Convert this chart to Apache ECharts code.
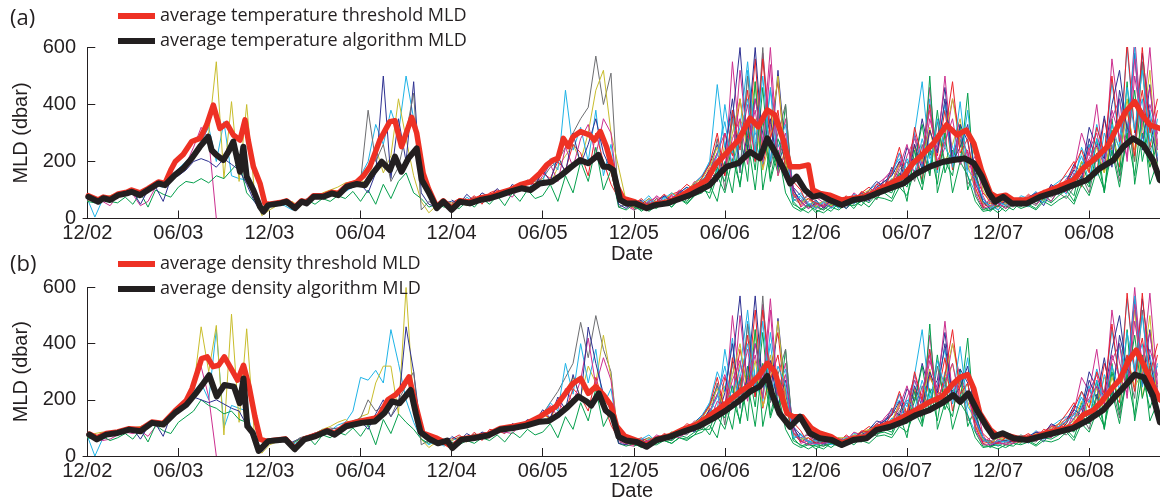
<!DOCTYPE html>
<html><head><meta charset="utf-8">
<script src="https://cdn.jsdelivr.net/npm/echarts@6/dist/echarts.min.js"></script>
<style>html,body{margin:0;padding:0;background:#fff}#c{width:1160px;height:502px}</style>
</head><body><div id="c"></div>
<script>
// ---- axis ticks (months since Dec 2002) ----
const tickMonths = [0,6,12,18,24,30,36,42,48,54,60,66];
const tickLabels = ['12/02','06/03','12/03','06/04','12/04','06/05','12/05','06/06','12/06','06/07','12/07','06/08'];
const thinStep = 0.5; // months between profiles of the individual floats

// ---- panel (a): averages [month, MLD dbar] ----
const aThreshold = [[0.07,80],[0.72,65],[1.05,75],[1.5,70],[2.04,86],[2.6,92],[2.92,100],[3.47,90],[4.0,105],[4.68,128],[5.12,123],[5.5,170],[5.8,200],[6.32,225],[6.88,270],[7.42,281],[7.86,328],[8.3,398],[8.74,316],[9.18,334],[9.62,293],[10.06,275],[10.39,346],[10.6,275],[10.94,182],[11.38,123],[11.7,53],[12.0,50],[12.7,56],[13.13,62],[13.68,40],[14.12,62],[14.45,57],[14.9,80],[15.55,80],[16.1,92],[16.53,88],[17.09,116],[17.75,128],[18.2,150],[18.62,182],[19.27,275],[19.93,340],[20.27,343],[20.7,252],[21.37,355],[21.7,300],[22.13,158],[22.47,106],[23.02,41],[23.45,62],[24.0,35],[24.55,62],[25.2,58],[25.87,72],[26.5,78],[27.19,90],[27.85,100],[28.6,120],[29.2,129],[29.8,158],[30.26,188],[30.7,205],[31.0,211],[31.36,281],[31.7,252],[32.0,287],[32.5,305],[33.1,293],[33.4,275],[33.8,305],[34.2,252],[34.5,194],[34.9,112],[35.3,71],[36.08,58],[36.85,40],[37.4,50],[38.2,57],[38.8,70],[39.9,106],[40.8,135],[41.45,194],[42.1,229],[42.9,275],[43.66,352],[44.2,322],[44.8,381],[45.3,363],[45.85,275],[46.3,182],[46.95,182],[47.5,188],[47.8,100],[48.27,88],[48.9,82],[49.7,65],[50.46,71],[51.23,76],[52.0,94],[52.9,123],[53.76,147],[54.4,194],[55.1,229],[55.75,264],[56.6,328],[57.3,293],[57.9,310],[58.4,264],[58.9,170],[59.5,88],[59.9,76],[60.5,82],[61.0,65],[62.0,65],[62.9,88],[64.0,112],[64.96,135],[65.6,176],[66.4,211],[67.2,252],[67.7,305],[68.4,375],[69.0,410],[69.5,363],[70.0,328],[70.66,316],[71.5,300]];
const aAlgorithm = [[0.07,76],[0.72,59],[1.05,71],[1.5,65],[2.04,82],[2.6,88],[2.92,94],[3.47,82],[4.0,100],[4.68,123],[5.12,117],[5.78,153],[6.32,176],[6.88,211],[7.42,252],[7.97,287],[8.19,240],[8.5,223],[8.96,205],[9.29,234],[9.62,270],[10.06,164],[10.28,252],[10.5,147],[10.94,100],[11.38,41],[11.6,24],[11.92,47],[12.7,53],[13.13,59],[13.68,36],[14.12,59],[14.45,53],[14.9,76],[15.55,76],[16.1,88],[16.53,82],[17.09,112],[17.75,121],[18.3,117],[18.8,158],[19.4,199],[19.94,170],[20.27,217],[20.7,164],[21.15,211],[21.7,246],[22.03,135],[22.47,94],[23.02,36],[23.45,59],[24.0,30],[24.55,59],[25.2,53],[25.87,65],[26.5,71],[27.19,82],[27.85,94],[28.6,106],[29.2,100],[29.8,123],[30.6,129],[31.25,153],[31.9,182],[32.46,205],[33.0,194],[33.66,223],[34.0,182],[34.3,182],[34.65,170],[35.1,65],[35.5,53],[36.08,53],[36.85,36],[37.4,47],[38.2,53],[38.8,65],[39.7,82],[40.36,100],[41.0,117],[41.67,158],[42.12,182],[42.9,194],[43.66,234],[44.3,211],[44.8,281],[45.3,234],[45.85,176],[46.3,123],[46.73,147],[47.28,100],[47.8,76],[48.27,82],[48.9,65],[49.7,47],[50.46,65],[51.23,71],[52.0,88],[52.9,106],[53.76,123],[54.64,158],[55.5,182],[56.4,199],[57.07,205],[57.8,211],[58.4,194],[58.93,147],[59.4,88],[59.8,59],[60.34,76],[60.9,53],[61.9,53],[62.76,76],[63.86,94],[64.96,117],[65.84,135],[66.7,176],[67.6,205],[68.25,252],[68.9,281],[69.57,258],[70.2,205],[70.66,135],[71.5,110]];

// ---- panel (b): averages ----
const bThreshold = [[0.13,78],[0.63,65],[1.25,80],[2.0,86],[2.76,97],[3.5,94],[4.26,121],[5.0,116],[5.77,160],[6.52,198],[6.9,240],[7.53,347],[7.9,353],[8.28,318],[8.65,323],[9.03,353],[9.53,306],[9.9,270],[10.29,323],[10.66,247],[11.04,141],[11.4,59],[11.8,53],[13.05,61],[13.67,27],[14.3,61],[15.05,74],[15.8,91],[16.3,80],[17.06,112],[18.06,125],[18.94,135],[19.2,141],[19.8,200],[20.3,218],[20.7,241],[21.2,282],[21.6,188],[22.1,82],[22.95,65],[23.5,50],[24.05,32],[24.65,61],[25.5,67],[26.4,77],[27.2,98],[28.1,106],[28.9,115],[29.85,141],[30.36,159],[30.86,176],[31.5,223],[32.0,259],[32.5,276],[33.0,223],[33.5,247],[34.0,218],[34.5,180],[34.87,106],[35.4,71],[36.2,55],[36.85,37],[37.5,60],[38.4,72],[39.27,95],[40.25,115],[41.24,153],[42.1,188],[43.0,229],[43.66,253],[44.3,290],[44.8,330],[45.3,300],[45.7,220],[46.1,152],[46.5,140],[47.1,140],[47.7,99],[48.26,81],[49.0,69],[49.7,45],[50.46,63],[51.3,69],[52.0,99],[52.9,116],[53.76,140],[54.6,164],[55.5,193],[56.3,211],[57.0,255],[57.5,280],[58.0,290],[58.4,240],[58.8,152],[59.5,93],[59.9,75],[60.5,75],[61.3,63],[62.2,63],[63.1,81],[64.0,93],[64.95,105],[65.6,146],[66.3,164],[66.9,199],[67.6,247],[68.0,270],[68.6,340],[69.1,377],[69.6,324],[70.2,250],[70.66,200],[71.5,180]];
const bAlgorithm = [[0.13,76],[0.63,59],[1.25,76],[2.0,82],[2.76,94],[3.5,88],[4.26,118],[5.0,112],[5.77,153],[6.52,182],[7.15,223],[7.65,259],[8.03,288],[8.53,212],[9.03,253],[9.66,247],[10.04,188],[10.29,276],[10.54,106],[10.9,82],[11.29,18],[11.92,53],[13.05,59],[13.67,24],[14.3,59],[15.05,71],[15.8,88],[16.3,76],[17.06,106],[18.06,118],[18.94,123],[19.57,153],[20.07,194],[20.57,188],[21.3,235],[21.65,150],[21.95,85],[22.5,62],[23.1,45],[23.7,55],[24.05,28],[24.65,58],[25.5,64],[26.4,73],[27.2,94],[28.1,100],[28.9,108],[29.8,122],[30.4,125],[31.0,145],[31.65,175],[32.35,212],[32.9,194],[33.2,180],[33.7,223],[34.15,162],[34.6,142],[35.0,68],[35.5,55],[36.2,50],[36.85,33],[37.5,57],[38.4,69],[39.27,87],[40.25,105],[41.24,134],[42.12,164],[43.0,199],[43.66,229],[44.3,248],[44.8,285],[45.1,223],[45.6,152],[46.3,104],[46.95,140],[47.6,81],[48.26,63],[49.04,57],[49.7,39],[50.46,57],[51.34,63],[52.0,93],[52.9,104],[53.76,122],[54.6,146],[55.5,164],[56.3,188],[57.05,217],[57.5,193],[58.04,223],[58.6,164],[59.25,104],[59.7,69],[60.3,81],[61.0,63],[61.9,57],[62.76,69],[63.64,81],[64.95,99],[65.94,128],[66.93,164],[67.8,217],[68.5,258],[69.0,290],[69.6,280],[70.2,215],[70.66,120],[71.5,100]];

// ---- panel (a): individual floats (values every thinStep months from start) ----
const aF1 = [70,5,65,70,80,85,95,85,100,115,110,140,175,200,230,270,320,200,340,150,140,135,80,20,40,50,45,30,50,60,70,75,85,80,95,110,150,200,330,260,380,300,500,350,200,80,40,55,30];
const aF2 = [60,75,70,80,90,85,100,95,105,120,115,145,170,190,220,260,300,550,140,410,130,400,100,10,30,45,50,60,40,70,75,90,100,110,125,130,135,120,250,160,220,420,280,150,60,20,45,60,55];
const aF3 = [65,70,60,45,80,90,85,45,60,110,120,140,160,190,250,320,280,0];
const aF4 = [60,55,65,60,55,75,50,90,40,100,85,75,110,130,125,140,125,150,140,170,200,90,60,40,45,55,50,40,55,65,50,70,60,80,70,95,60,100,50,120,70,130,160,90,70,40,50,40,45];
const aF5 = [70,65,75,70,85,80,95,50,100,110,60,140,150,170,200,210,200,180,210,190,170,120,60,20,40,55,50,45,60,65,80,75,90,95,100,110,120,90,160,500,140,350,200,480,90,50,40,55,60];
const aF6 = [45,50,55,45,60,70,75,80,95,90,100,120,130,380,200,260,130,180,300,440,30,60,40,55,50,65,60,75,70,80,90,95,100,110,120,130,140,180,200,250,300,350,390,570,400,510,40,50,40,45,55,50,60,70,80,90,100];
const aL1 = [50,60,45,70,65,80,75,95,90,110,100,125, 140,120,180,220,260,200,300,450,520,300,180, 60,40, 50,45,60,55,70,80,75,100,120, 150,130,260,180,350,280,480,200,380,150,250,90, 60,70,50, 60,45,55,70,65,80,90,100,110, 140,120,180,150,230,160,300,200,260,350,180,250,100, 50,60, 55,70,50,65,80,75,90,110,100, 140,130,180,220,160,300,250,420,200,550,180,280];
const aL2 = [60,45,75,55,80,70,90,85,100,120,95,140, 130,210,170,450,240,320,200,380,150,260,90, 40,55, 35,60,50,75,65,90,110,100,140, 200,470,250,380,160,520,300,240,450,180,220,70, 90,50,40, 55,70,40,60,85,70,100,120,95, 170,210,140,290,180,420,160,330,250,200,380,140,60, 45,70, 60,50,80,70,95,60,110,130,150, 120,250,180,330,210,480,260,600,300,420,200,350];
const aL3 = [55,70,60,80,50,90,100,85,110,95,130,120, 160,140,200,170,260,230,150,300,200,120,70, 50,35, 60,40,70,50,85,95,80,120,110, 180,140,300,220,420,250,560,180,330,480,200,130, 100,40,60, 40,65,55,80,50,90,110,85,130, 120,200,160,260,130,310,220,380,170,290,230,150,90, 60,40, 70,55,60,85,65,100,90,120,160, 200,110,260,160,350,240,180,620,300,450,250,380];
const aL4 = [40,65,50,70,80,60,95,90,75,115,130,110, 150,190,130,250,180,280,330,220,350,300,60, 45,30, 40,55,45,65,80,70,95,85,130, 170,230,150,550,260,400,200,580,310,220,350,100, 60,80,35, 50,40,60,75,55,90,80,120,140, 160,230,120,300,200,460,180,250,420,300,170,220,80, 30,65, 45,70,60,55,90,80,115,100,140, 170,300,220,400,170,560,350,250,640,280,400,300];
const aL5 = [45,35,60,40,70,50,80,45,90,60,100,70, 80,120,60,150,90,200,130,250,100,170,40, 30,50, 25,45,35,60,40,70,55,80,90, 120,60,200,90,300,130,480,100,250,160,400,60, 30,50,20, 40,25,55,35,60,45,80,70,100, 90,160,60,240,120,500,90,200,150,330,100,180,40, 25,55, 35,60,40,75,50,85,60,100,110, 80,200,120,280,90,350,150,480,120,300,180,260];
const aL6 = [65,50,85,60,90,75,105,80,120,100,135,115, 170,130,220,160,300,190,260,350,230,170,50, 35,60, 50,70,45,80,60,95,75,125,150, 190,260,170,350,600,240,420,300,190,520,230,110, 80,45,65, 35,60,50,45,75,60,100,130,110, 180,140,250,190,350,220,280,460,200,330,270,120,70, 40,55, 50,65,45,75,90,70,120,95,130, 190,160,320,250,210,400,520,300,580,240,470,200];
const aM1 = [45, 60,40,70,55,50,85,70,110,90, 140,280,100,350,160,500,220,600,180,300,400,70, 50,90,40, 30,55,70,45,60,80,95,65,120, 100,170,200,130,260,150,340,190,230,280,120,160,50, 60,30, 55,40,70,60,45,85,75,90,70, 110,150,90,220,170,260,130,330,200,550,240,300];
const aM2 = [55, 40,65,50,75,60,95,80,120,150, 200,160,400,230,320,550,270,190,460,250,330,90, 70,45,60, 45,60,35,70,55,75,90,110,130, 150,230,170,300,480,210,260,400,180,310,150,90,60, 45,30, 65,50,75,40,80,65,95,110,85, 140,180,260,150,300,220,420,280,600,250,380,220];
const aM3 = [35, 55,45,80,60,70,100,90,130,110, 160,230,300,180,520,260,380,200,540,150,240,110, 40,60,75, 55,40,65,50,90,70,100,85,140, 170,130,220,280,190,350,240,500,210,300,220,130,45, 70,50, 40,60,55,75,50,70,100,120,90, 160,130,240,300,180,350,420,200,500,320,600,260];
const aM4 = [40, 30,55,40,65,50,80,60,90,100, 90,180,130,260,110,330,170,460,140,280,200,50, 35,20,45, 30,50,40,60,35,70,55,85,90, 70,140,110,200,330,150,380,160,240,190,440,80,30, 40,20, 45,30,60,50,35,70,55,80,100, 60,150,110,230,90,310,160,270,450,200,330,130];
const aM5 = [60, 45,70,55,60,90,75,100,125,140, 180,250,160,300,420,210,350,170,280,500,200,80, 55,70,40, 60,45,70,60,50,85,100,95,115, 130,190,150,250,200,320,180,290,420,260,190,100,55, 40,70, 50,65,45,70,85,60,90,120,105, 130,200,170,250,160,290,200,380,240,310,520,170];
const aM6 = [50, 65,35,60,80,55,90,110,80,130, 170,130,230,420,180,290,600,250,350,180,280,100, 60,35,55, 40,65,55,35,70,90,60,110,130, 150,200,120,260,170,310,230,420,200,250,330,150,60, 30,45, 60,45,65,55,80,45,95,85,120, 170,140,280,200,360,180,450,320,270,580,350,200];
const aM7 = [50, 70,45,60,85,65,95,120,100,145, 190,300,150,380,240,450,200,560,280,380,170,90, 45,70,55, 45,70,50,65,55,95,80,120,110, 160,250,140,320,210,400,170,300,480,230,280,110,40, 55,40, 70,55,45,80,65,90,110,95,125, 180,240,160,320,230,500,270,380,220,600,300,420];
const aM8 = [30, 50,25,45,60,40,70,50,80,120, 70,150,90,210,120,280,100,350,130,240,90,40, 25,45,30, 20,40,30,50,45,60,40,75,70, 60,110,80,170,100,250,120,300,90,200,150,60,25, 30,45, 25,50,35,45,30,60,45,65,80, 50,120,80,170,100,240,110,300,150,380,120,200];
const aM9 = [65, 55,80,45,70,90,65,105,90,135, 160,220,340,180,290,420,230,500,200,330,260,60, 80,55,35, 60,35,55,70,50,80,75,100,95, 140,120,210,160,280,180,350,250,200,410,170,140,70, 35,60, 45,70,50,60,75,55,90,100,130, 150,220,130,280,190,330,240,460,310,520,270,330];
const aM10 = [55, 40,60,75,50,80,60,90,115,100, 130,200,170,280,350,190,420,260,600,210,300,80, 60,35,50, 40,60,45,55,70,65,90,110,105, 120,180,260,150,230,380,200,270,350,190,240,90,35, 45,55, 35,50,65,45,70,80,60,105,95, 140,170,210,260,180,380,290,220,560,340,460,240];

// ---- panel (b): individual floats ----
const bF1 = [72,0,60,75,78,88,92,100,110,120,105,130,170,190,230,260,200,450,100,180,170,160,60,20,45,50,55,40,55,65,80,95,90,110,120,160,280,270,305,260,450,330,200,120,60,40,55,35,50];
const bF2 = [65,80,85,82,90,95,100,105,115,110,125,140,170,200,240,460,300,465,75,505,120,453,80,10,40,50,55,45,60,70,80,95,105,120,130,110,140,150,260,320,320,150,600,180,60,30,50,55,60];
const bF3 = [70,65,55,60,75,85,80,90,70,105,115,150,170,200,270,318,210,0];
const bF4 = [65,60,70,55,65,80,60,95,50,110,90,80,120,140,160,200,180,170,150,160,130,120,70,50,45,60,55,45,60,70,40,75,65,85,75,100,70,110,40,130,80,150,120,95,60,45,55,50,45];
const bF5 = [72,68,78,72,86,84,98,60,105,115,70,145,160,180,210,200,190,200,185,170,160,110,50,15,45,60,55,50,62,70,82,78,95,100,105,115,125,95,150,200,140,180,460,300,80,50,45,55,65];
const bF6 = [50,55,50,45,65,72,78,85,100,95,105,125,135,200,160,180,140,200,250,300,40,55,45,50,55,68,65,78,75,85,95,100,105,115,125,135,150,190,230,280,330,476,350,500,380,300,45,55,40,50,55,60,65,75,85,95,105];
const bL1 = [55,65,50,75,70,85,80,100,95,115,105,130, 150,130,190,230,280,210,320,260,430,280,60, 45,55, 40,60,50,70,85,75,105,95,125, 160,140,250,190,330,260,450,210,360,170,240,80, 65,50,40, 55,70,45,60,75,85,95,110,100, 130,170,140,210,160,280,220,240,330,200,260,110,60, 45,55, 65,50,75,60,85,70,100,115,130, 150,120,200,170,280,230,400,260,520,210,330,250];
const bL2 = [65,50,70,60,85,75,95,80,105,115,100,135, 140,190,160,330,220,400,260,380,180,240,70, 45,60, 40,55,60,70,60,85,100,110,130, 190,300,230,420,170,480,280,220,400,190,200,60, 80,55,45, 50,65,45,55,80,75,95,115,100, 160,200,150,270,190,380,170,300,240,210,350,130,55, 50,65, 55,60,75,65,90,70,105,125,140, 130,230,190,310,220,450,270,560,310,400,210,330];
const bL3 = [60,75,55,85,55,95,90,80,115,100,125,115, 150,135,190,160,240,210,160,280,190,110,60, 45,40, 55,45,65,55,80,90,85,115,105, 170,150,280,200,380,240,520,170,310,440,190,120, 90,45,55, 45,60,50,75,55,85,105,90,125, 115,190,150,240,140,290,210,350,160,270,220,140,80, 55,45, 65,50,65,80,60,95,85,115,150, 190,120,240,170,330,230,190,580,290,420,240,360];
const bL4 = [45,60,55,65,75,65,90,85,80,110,125,115, 145,180,140,240,190,270,420,250,350,270,55, 40,35, 45,50,50,60,75,75,90,90,120, 160,220,160,500,250,380,210,540,300,230,330,95, 65,75,40, 55,45,55,70,60,85,85,115,130, 150,220,130,290,190,430,190,240,400,280,180,210,75, 35,60, 50,65,55,60,85,85,110,105,135, 160,280,230,380,180,520,330,260,600,290,380,290];
const bL5 = [50,40,55,45,65,55,75,50,85,65,95,75, 85,115,65,140,95,190,125,240,105,160,45, 35,45, 30,40,40,55,45,65,60,75,85, 110,65,190,95,280,125,450,105,240,150,380,65, 35,45,25, 45,30,50,40,55,50,75,75,95, 85,150,65,230,115,470,95,190,140,310,105,170,45, 30,50, 40,55,45,70,55,80,65,95,105, 85,190,115,270,95,330,145,450,125,290,170,250];
const bL6 = [70,55,80,65,85,80,100,85,115,105,130,120, 165,135,210,165,290,200,459,330,220,160,45, 40,55, 55,65,50,75,65,90,80,120,145, 180,250,175,330,570,230,400,290,200,490,220,105, 75,50,60, 40,55,55,50,70,65,95,125,115, 170,145,240,195,330,225,270,440,205,310,260,125,65, 45,50, 55,60,50,70,85,75,115,100,125, 180,165,300,240,215,380,500,290,560,250,450,210];
const bM1 = [50, 55,45,65,60,55,80,75,105,95, 135,260,110,330,170,470,210,570,190,290,380,75, 55,85,45, 35,50,65,50,55,75,90,70,115, 105,160,190,135,250,155,320,185,225,270,125,150,55, 55,35, 50,45,65,55,50,80,70,85,75, 105,145,95,210,165,250,135,310,205,520,235,290];
const bM2 = [50, 45,60,55,70,65,90,85,115,145, 190,165,380,225,310,520,260,195,440,240,310,85, 65,50,55, 50,55,40,65,60,70,85,105,125, 145,220,175,290,450,205,255,380,185,300,145,85,55, 50,35, 60,55,70,45,75,70,90,105,90, 135,175,250,155,290,215,400,270,570,245,360,215];
const bM3 = [40, 50,50,75,65,65,95,95,125,115, 155,220,290,185,500,250,360,205,520,155,230,105, 45,55,70, 50,45,60,55,85,75,95,90,135, 165,135,210,270,195,340,235,480,215,290,215,125,50, 65,45, 45,55,60,70,55,65,95,115,95, 155,135,230,290,185,340,400,205,480,310,580,255];
const bM4 = [45, 35,50,45,60,55,75,65,85,95, 95,170,135,250,115,320,175,440,145,270,195,55, 40,25,40, 35,45,45,55,40,65,60,80,85, 75,135,115,195,320,155,360,165,235,195,420,85,35, 35,25, 40,35,55,55,40,65,60,75,95, 65,145,115,220,95,300,165,260,430,205,320,135];
const bM5 = [55, 50,65,60,55,85,80,95,120,135, 175,240,165,290,400,215,340,175,270,480,205,85, 60,65,45, 55,50,65,65,55,80,95,100,110, 125,185,155,240,205,310,185,280,400,255,195,105,60, 45,65, 55,60,50,65,80,65,85,115,110, 125,195,175,240,165,280,205,360,245,300,500,175];
const bM6 = [55, 60,40,55,75,60,85,105,85,125, 165,135,225,400,185,280,570,245,340,185,270,105, 55,40,50, 45,60,60,40,65,85,65,105,125, 145,195,125,250,175,300,225,400,205,245,320,145,65, 35,50, 55,50,60,60,75,50,90,90,115, 165,145,270,205,350,185,430,310,275,560,340,205];
const bM7 = [55, 65,50,55,80,70,90,115,105,140, 180,280,160,350,230,430,210,520,270,360,180,85, 50,65,45, 50,65,55,60,60,90,85,115,105, 150,230,150,300,200,380,180,290,450,220,260,105,45, 50,45, 65,50,50,75,70,85,105,100,120, 170,230,170,300,220,470,260,360,230,580,290,400];
const bM8 = [35, 45,30,50,55,45,65,55,75,110, 75,140,95,200,125,260,105,330,135,230,95,45, 30,40,35, 25,45,35,45,50,55,45,70,75, 65,105,85,160,105,240,125,280,95,190,145,65,30, 35,40, 30,45,40,50,35,55,50,60,85, 55,115,85,160,105,230,115,290,145,360,125,190];
const bM9 = [60, 60,75,50,65,85,70,100,95,130, 155,210,320,185,280,400,235,480,205,320,250,65, 75,50,40, 55,40,50,65,55,75,80,95,100, 135,125,200,165,270,185,340,245,205,390,175,135,65, 40,55, 50,65,55,55,70,60,85,105,125, 145,210,135,270,195,320,235,440,300,500,265,320];
const bM10 = [50, 45,55,70,55,75,65,85,110,105, 125,195,175,270,340,195,400,255,560,215,290,85, 55,40,45, 45,55,50,50,65,70,85,105,110, 115,175,250,155,225,360,205,265,330,195,230,95,40, 40,50, 40,45,60,50,65,75,65,100,100, 135,165,205,250,185,360,280,225,540,330,440,235];

// ---- styling ----
const COL = {cyan:'#1fb3e6', yellow:'#c8bd2c', magenta:'#cc2f8f', green:'#06a04d', blue:'#2e3192', gray:'#6d6e71', red:'#ec2227'};
const RED = '#ee3124', BLACK = '#231f20';
const FONT = 'Liberation Sans', LFONT = 'Open Sans';

const thinA = [[aF1,0,'cyan'],[aF2,0,'yellow'],[aF3,0,'magenta'],[aF4,0,'green'],[aF5,0,'blue'],[aF6,12,'gray'],
  [aL1,24,'yellow'],[aL2,24,'cyan'],[aL3,24,'red'],[aL4,24,'magenta'],[aL5,24,'green'],[aL6,24,'blue'],
  [aM1,36,'gray'],[aM2,36,'cyan'],[aM3,36,'magenta'],[aM4,36,'green'],[aM5,36,'yellow'],[aM6,36,'blue'],
  [aM7,36,'red'],[aM8,36,'green'],[aM9,36,'cyan'],[aM10,36,'magenta']];
const thinB = [[bF1,0,'cyan'],[bF2,0,'yellow'],[bF3,0,'magenta'],[bF4,0,'green'],[bF5,0,'blue'],[bF6,12,'gray'],
  [bL1,24,'yellow'],[bL2,24,'cyan'],[bL3,24,'red'],[bL4,24,'magenta'],[bL5,24,'green'],[bL6,24,'blue'],
  [bM1,36,'gray'],[bM2,36,'cyan'],[bM3,36,'magenta'],[bM4,36,'green'],[bM5,36,'yellow'],[bM6,36,'blue'],
  [bM7,36,'red'],[bM8,36,'green'],[bM9,36,'cyan'],[bM10,36,'magenta']];

function thinSeries(def, gi) {
  const [vals, start, c] = def;
  return {type:'line', xAxisIndex:gi, yAxisIndex:gi, data: vals.map((v,i)=>[start + i*thinStep, v]),
    showSymbol:false, symbol:'none', silent:true, animation:false, z:2,
    lineStyle:{width:1, color:COL[c]}, itemStyle:{color:COL[c]}};
}
function avgSeries(name, data, color, width, gi, z) {
  return {type:'line', name, xAxisIndex:gi, yAxisIndex:gi, data, showSymbol:false, symbol:'none',
    silent:true, animation:false, z, lineStyle:{width, color, join:'round', cap:'round'}, itemStyle:{color}};
}
function xAxis(gi) {
  return {type:'value', gridIndex:gi, min:-0.283, max:72.05,
    name:'Date', nameLocation:'middle', nameGap:24, nameTextStyle:{fontFamily:FONT, fontSize:20, color:BLACK},
    axisLine:{show:true, lineStyle:{color:BLACK, width:1}},
    axisTick:{show:true, inside:true, length:8, customValues:tickMonths, lineStyle:{color:BLACK}},
    axisLabel:{customValues:tickMonths, margin:5, fontFamily:FONT, fontSize:20, color:BLACK,
      formatter:(v)=>tickLabels[tickMonths.indexOf(Math.round(v))] || ''},
    splitLine:{show:false}};
}
function yAxis(gi) {
  return {type:'value', gridIndex:gi, min:0, max:600, interval:200,
    name:'MLD (dbar)', nameLocation:'middle', nameGap:50, nameTextStyle:{fontFamily:FONT, fontSize:20, color:BLACK},
    axisLine:{show:true, lineStyle:{color:BLACK, width:1}},
    axisTick:{show:true, inside:true, length:8, lineStyle:{color:BLACK}},
    axisLabel:{margin:7, fontFamily:FONT, fontSize:20, color:BLACK},
    splitLine:{show:false}};
}
function legend(names, top) {
  return {data:names, orient:'vertical', left:113, top, icon:'rect', itemWidth:37, itemHeight:6, itemGap:5,
    textStyle:{fontFamily:LFONT, fontSize:18, color:BLACK, lineHeight:20}, selectedMode:false};
}

const series = [];
thinA.forEach(d=>series.push(thinSeries(d,0)));
thinB.forEach(d=>series.push(thinSeries(d,1)));
series.push(avgSeries('average temperature threshold MLD', aThreshold, RED, 5.5, 0, 3));
series.push(avgSeries('average temperature algorithm MLD', aAlgorithm, BLACK, 6, 0, 4));
series.push(avgSeries('average density threshold MLD', bThreshold, RED, 5.5, 1, 3));
series.push(avgSeries('average density algorithm MLD', bAlgorithm, BLACK, 6, 1, 4));

const chart = echarts.init(document.getElementById('c'), null, {renderer:'canvas'});
chart.setOption({
  backgroundColor:'#ffffff',
  animation:false,
  title:[
    {text:'(a)', left:5, top:3, textStyle:{fontFamily:LFONT, fontSize:22, fontWeight:'normal', color:BLACK}},
    {text:'(b)', left:5, top:249, textStyle:{fontFamily:LFONT, fontSize:22, fontWeight:'normal', color:BLACK}}
  ],
  legend:[
    legend(['average temperature threshold MLD','average temperature algorithm MLD'], 1),
    legend(['average density threshold MLD','average density algorithm MLD'], 249)
  ],
  grid:[
    {left:83, top:47.5, width:1098, height:171, outerBoundsMode:'none'},
    {left:83, top:287.5, width:1098, height:168.5, outerBoundsMode:'none'}
  ],
  xAxis:[xAxis(0), xAxis(1)],
  yAxis:[yAxis(0), yAxis(1)],
  series
});
</script></body></html>
